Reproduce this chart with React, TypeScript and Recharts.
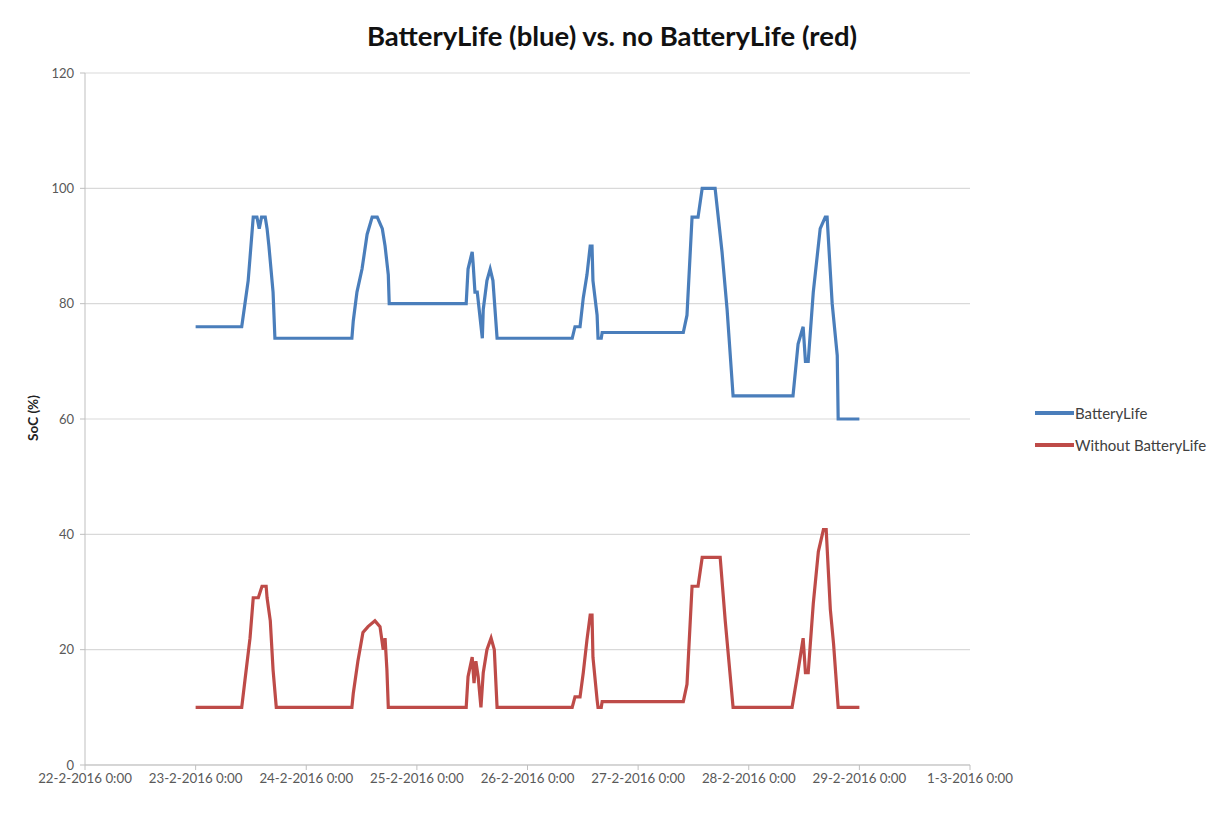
import React from "react";
import { LineChart, Line, XAxis, YAxis, CartesianGrid } from "recharts";

// hours since 22-2-2016 0:00
const blueHours = [24, 34, 34.7, 35.4, 35.8, 36.5, 37.3, 37.8, 38.3, 39.1, 39.5, 39.9, 40.8, 41.2, 57.9, 58.2, 59, 60.1, 61.2, 62.3, 63.4, 64.5, 65.1, 65.8, 66, 82.7, 83.1, 84, 84.2, 84.6, 85.1, 86.2, 86.4, 87.2, 87.9, 88.5, 89.4, 105.7, 106.3, 107.4, 108.1, 108.9, 109.6, 110, 110.2, 111.1, 111.3, 112, 112.2, 129.8, 130.6, 131.7, 133, 133.9, 136.7, 138.2, 139.3, 140.6, 153.6, 154.7, 155.8, 156.3, 156.9, 158, 159.5, 160.6, 161, 162.1, 163.2, 163.4, 168];
const blueValues = [76, 76, 80, 84, 88, 95, 95, 93, 95, 95, 93, 90, 82, 74, 74, 77, 82, 86, 92, 95, 95, 93, 90, 85, 80, 80, 86, 89, 87, 82, 82, 74, 79, 84, 86, 84, 74, 74, 76, 76, 81, 85, 90, 90, 84, 78, 74, 74, 75, 75, 78, 95, 95, 100, 100, 89, 79, 64, 64, 73, 76, 70, 70, 82, 93, 95, 95, 80, 71, 60, 60];

const redHours = [24, 34, 34.7, 35.8, 36.5, 37.6, 38.4, 39.3, 39.5, 40.2, 40.8, 41.5, 57.9, 58.2, 59.2, 60.3, 61.4, 62.9, 64, 64.7, 65.1, 65.5, 65.8, 82.7, 83.1, 84, 84.4, 84.8, 85.3, 85.9, 86.4, 87.2, 88.1, 88.8, 89.4, 105.7, 106.3, 107.4, 108.1, 108.9, 109.6, 110, 110.2, 111.1, 111.3, 112, 112.2, 129.8, 130.6, 131.7, 133, 133.9, 137.8, 138.9, 140.6, 153.4, 154.5, 155.8, 156.3, 156.9, 158, 159.1, 160.2, 160.8, 161.7, 162.4, 163.4, 168];
const redValues = [10, 10, 14.7, 22, 29, 29, 31, 31, 29, 25, 16.5, 10, 10, 12.4, 18, 23, 24, 25, 24, 20, 22, 16.5, 10, 10, 15.3, 18.7, 14.2, 18, 15.3, 10, 16, 20, 22, 20, 10, 10, 11.8, 11.8, 16, 21.7, 26, 26, 18.7, 11.3, 10, 10, 11, 11, 14, 31, 31, 36, 36, 25, 10, 10, 15.3, 22, 16, 16, 28, 37, 40.8, 40.8, 27, 21, 10, 10];

const xTicks = [0, 24, 48, 72, 96, 120, 144, 168, 192];
const xTickLabels = [
  "22-2-2016 0:00",
  "23-2-2016 0:00",
  "24-2-2016 0:00",
  "25-2-2016 0:00",
  "26-2-2016 0:00",
  "27-2-2016 0:00",
  "28-2-2016 0:00",
  "29-2-2016 0:00",
  "1-3-2016 0:00",
];
const yTicks = [0, 20, 40, 60, 80, 100, 120];

const seriesNames = ["BatteryLife", "Without BatteryLife"];
const seriesColors = ["#4A7EBB", "#BE4B48"];
const title = "BatteryLife (blue) vs. no BatteryLife (red)";
const yLabel = "SoC (%)";

const blueData = blueHours.map((h, i) => ({ h, v: blueValues[i] }));
const redData = redHours.map((h, i) => ({ h, v: redValues[i] }));

const FONT = "Lato, 'Liberation Sans', sans-serif";

export default function App() {
  return (
    <div style={{ position: "absolute", left: 0, top: 0, width: 1217, height: 817, background: "#fff", fontFamily: FONT }}>
      <div
        style={{
          position: "absolute",
          left: 0,
          width: 1224,
          top: 19,
          textAlign: "center",
          fontSize: 27.5,
          fontWeight: 700,
          color: "#111",
          fontFamily: FONT,
        }}
      >
        {title}
      </div>
      <div
        style={{
          position: "absolute",
          left: 33,
          top: 418,
          transform: "translate(-50%, -50%) rotate(-90deg)",
          fontSize: 13.5,
          fontWeight: 700,
          color: "#222",
          whiteSpace: "nowrap",
          fontFamily: FONT,
        }}
      >
        {yLabel}
      </div>
      <LineChart
        width={1217}
        height={817}
        margin={{ top: 73, right: 247, bottom: 22, left: 25 }}
        style={{ position: "absolute", left: 0, top: 0 }}
      >
        <CartesianGrid vertical={false} stroke="#D9D9D9" strokeWidth={1.2} />
        <XAxis
          type="number"
          dataKey="h"
          domain={[0, 192]}
          ticks={xTicks}
          interval={0}
          tickFormatter={(v) => xTickLabels[xTicks.indexOf(v)] ?? ""}
          height={30}
          tickSize={5}
          tickMargin={4}
          stroke="#BFBFBF"
          tick={{ fill: "#595959", fontSize: 13.3, fontFamily: FONT }}
          allowDuplicatedCategory={false}
        />
        <YAxis
          type="number"
          domain={[0, 120]}
          ticks={yTicks}
          interval={0}
          width={60}
          tickSize={5}
          tickMargin={6}
          stroke="#BFBFBF"
          tick={{ fill: "#595959", fontSize: 13, fontFamily: FONT }}
        />
        <Line
          data={blueData}
          dataKey="v"
          name={seriesNames[0]}
          type="linear"
          stroke={seriesColors[0]}
          strokeWidth={3.2}
          dot={false}
          activeDot={false}
          isAnimationActive={false}
        />
        <Line
          data={redData}
          dataKey="v"
          name={seriesNames[1]}
          type="linear"
          stroke={seriesColors[1]}
          strokeWidth={3.2}
          dot={false}
          activeDot={false}
          isAnimationActive={false}
        />
      </LineChart>
      {seriesNames.map((name, i) => (
        <div
          key={name}
          style={{
            position: "absolute",
            left: 1035,
            top: 404 + i * 32,
            display: "flex",
            alignItems: "center",
            height: 18,
            fontSize: 15,
            color: "#404040",
            fontFamily: FONT,
            whiteSpace: "nowrap",
          }}
        >
          <span style={{ display: "inline-block", width: 39, height: 3.5, background: seriesColors[i], marginRight: 1 }} />
          {name}
        </div>
      ))}
    </div>
  );
}
